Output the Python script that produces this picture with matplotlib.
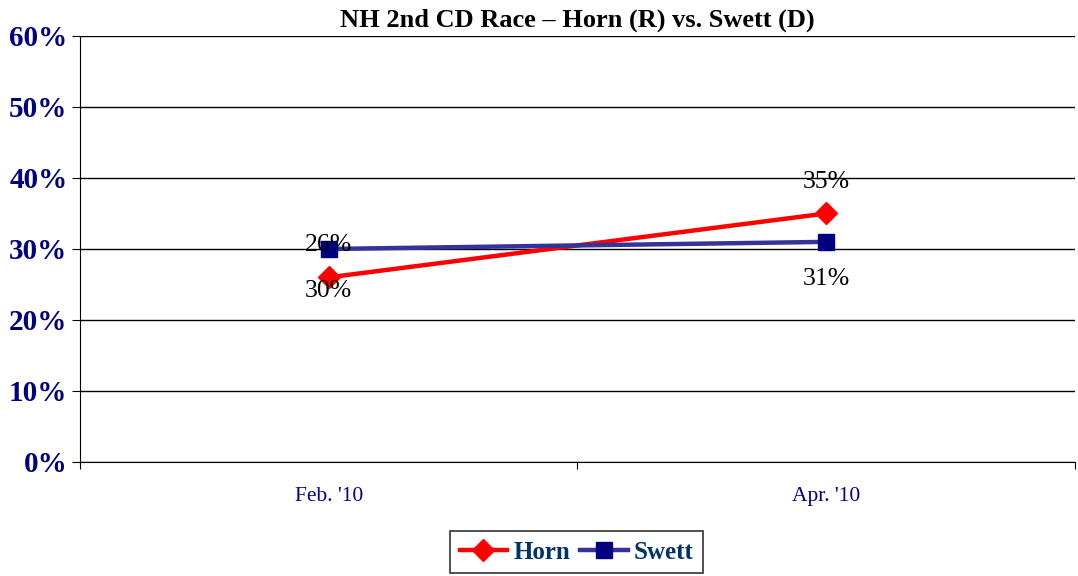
import matplotlib.pyplot as plt

# data
months = ["Feb. '10", "Apr. '10"]
horn = [26, 35]
swett = [30, 31]
horn_labels = ["26%", "35%"]
swett_labels = ["30%", "31%"]
yticks = [0, 10, 20, 30, 40, 50, 60]

plt.rcParams['font.family'] = ['Liberation Serif', 'DejaVu Serif']

fig = plt.figure(figsize=(10.78, 5.76), dpi=100)
ax = fig.add_axes([0.0742, 0.198, 0.9228, 0.7395])

x = list(range(len(months)))
ax.plot(x, horn, color='#ff0000', lw=3.2, marker='D', ms=11, label='Horn', zorder=3)
ax.plot(x, swett, color='#333399', lw=3.2, marker='s', ms=12, mfc='#000080', mec='#000080',
        label='Swett', zorder=3)

# data labels (placed as in the original chart)
ax.annotate(horn_labels[0], (x[0], swett[0]), xytext=(0, 3), textcoords='offset points',
            ha='center', va='center', fontsize=18.5, zorder=4)
ax.annotate(swett_labels[0], (x[0], horn[0]), xytext=(0, -10), textcoords='offset points',
            ha='center', va='center', fontsize=18.5, zorder=4)
ax.annotate(horn_labels[1], (x[1], horn[1]), xytext=(0, 23), textcoords='offset points',
            ha='center', va='center', fontsize=18.5, zorder=4)
ax.annotate(swett_labels[1], (x[1], swett[1]), xytext=(0, -27), textcoords='offset points',
            ha='center', va='center', fontsize=18.5, zorder=4)

ax.set_xlim(-0.5, 1.5)
ax.set_ylim(0, 60)
ax.set_yticks(yticks)
ax.set_yticklabels([f"{v}%" for v in yticks], fontsize=21, fontweight='bold', color='#000080')
ax.yaxis.grid(True, color='black', lw=1)
ax.set_axisbelow(True)

ax.set_xticks([-0.5, 0.5, 1.5])
ax.set_xticklabels([])
ax.set_xticks(x, minor=True)
ax.set_xticklabels(months, minor=True, fontsize=15.5, color='#000080')
ax.tick_params(axis='x', which='minor', length=0, pad=18)
ax.tick_params(axis='x', which='major', length=5, direction='out')
ax.tick_params(axis='y', length=6, direction='out', pad=3)

for s in ['top', 'right']:
    ax.spines[s].set_visible(False)

ax.set_title("NH 2nd CD Race \u2013 Horn (R) vs. Swett (D)", fontsize=19, fontweight='bold', pad=7)

leg = fig.legend(loc='lower center', bbox_to_anchor=(0.535, -0.017), ncol=2,
                 frameon=True, fancybox=False, edgecolor='black', handlelength=1.9,
                 columnspacing=0.4, handletextpad=0.25, borderpad=0.38,
                 prop={'weight': 'bold', 'size': 18})
leg.get_frame().set_linewidth(1.2)
for t in leg.get_texts():
    t.set_color('#003366')

fig.savefig('out.png', dpi=100)
